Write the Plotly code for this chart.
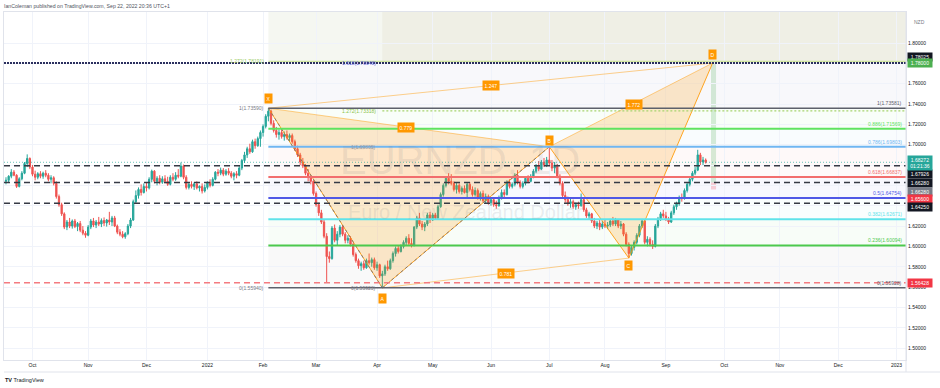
import pandas as pd
import plotly.graph_objects as go

# ---------------- data ----------------
dates = pd.bdate_range("2021-09-17", "2022-09-22")

opens = [1.6640,
 1.6650,1.6690,1.6730,1.6700,1.6590, 1.6665,1.6720,1.6815,1.6865,1.6780,
 1.6710,1.6680,1.6715,1.6690,1.6720, 1.6700,1.6660,1.6675,1.6620,1.6490,
 1.6410,1.6320,1.6190,1.6240,1.6200, 1.6250,1.6195,1.6225,1.6160,1.6130,
 1.6110,1.6190,1.6250,1.6210,1.6240, 1.6220,1.6255,1.6230,1.6260,1.6240,
 1.6280,1.6200,1.6140,1.6120,1.6095, 1.6125,1.6200,1.6260,1.6440,1.6500,
 1.6560,1.6530,1.6590,1.6575,1.6660, 1.6740,1.6640,1.6670,1.6630,1.6665,
 1.6640,1.6610,1.6680,1.6660,1.6700, 1.6690,1.6790,1.6680,1.6580,1.6610,
 1.6590,1.6615,1.6575,1.6590,1.6545, 1.6580,1.6630,1.6600,1.6660,1.6730,
 1.6720,1.6750,1.6710,1.6740,1.6720, 1.6690,1.6715,1.6700,1.6770,1.6845,
 1.6900,1.6960,1.6930,1.7030,1.6990, 1.7060,1.7120,1.7180,1.7280,1.7330,
 1.7210,1.7140,1.7100,1.7120,1.7080, 1.7100,1.7070,1.7090,1.7030,1.6960,
 1.6900,1.6830,1.6790,1.6720,1.6680, 1.6640,1.6520,1.6410,1.6330,1.6240,
 1.6100,1.5900,1.5880,1.6180,1.6060, 1.6120,1.6190,1.6120,1.6060,1.6080,
 1.6020,1.5920,1.5860,1.5810,1.5830, 1.5790,1.5860,1.5840,1.5870,1.5790,
 1.5820,1.5710,1.5730,1.5800,1.5780, 1.5860,1.5930,1.5980,1.5950,1.6000,
 1.6040,1.6080,1.6030,1.6010,1.6190, 1.6280,1.6220,1.6190,1.6220,1.6310,
 1.6260,1.6310,1.6280,1.6390,1.6510, 1.6600,1.6670,1.6640,1.6620,1.6560,
 1.6600,1.6540,1.6570,1.6530,1.6610, 1.6560,1.6510,1.6550,1.6480,1.6520,
 1.6450,1.6490,1.6430,1.6460,1.6410, 1.6400,1.6480,1.6530,1.6510,1.6630,
 1.6590,1.6610,1.6700,1.6630,1.6590, 1.6620,1.6670,1.6640,1.6690,1.6740,
 1.6790,1.6760,1.6830,1.6800,1.6850, 1.6820,1.6770,1.6800,1.6690,1.6620,
 1.6500,1.6460,1.6420,1.6440,1.6390, 1.6410,1.6400,1.6460,1.6360,1.6300,
 1.6320,1.6250,1.6200,1.6230,1.6190, 1.6220,1.6200,1.6210,1.6250,1.6220,
 1.6260,1.6200,1.6220,1.6120,1.6020, 1.5930,1.5990,1.6040,1.6110,1.6200,
 1.6250,1.6040,1.6070,1.6020,1.6000, 1.6200,1.6270,1.6320,1.6300,1.6270,
 1.6240,1.6330,1.6390,1.6420,1.6480, 1.6470,1.6550,1.6610,1.6660,1.6720,
 1.6750,1.6900,1.6830,1.6850]

highs = [1.6680,
 1.6700,1.6760,1.6750,1.6710,1.6680, 1.6740,1.6830,1.6905,1.6875,1.6800,
 1.6745,1.6730,1.6740,1.6735,1.6750, 1.6720,1.6700,1.6690,1.6640,1.6510,
 1.6430,1.6335,1.6260,1.6280,1.6265, 1.6270,1.6240,1.6250,1.6200,1.6150,
 1.6210,1.6270,1.6280,1.6260,1.6290, 1.6275,1.6285,1.6270,1.6340,1.6300,
 1.6300,1.6215,1.6170,1.6150,1.6140, 1.6220,1.6280,1.6460,1.6550,1.6580,
 1.6610,1.6620,1.6625,1.6680,1.6755, 1.6750,1.6690,1.6700,1.6690,1.6700,
 1.6685,1.6700,1.6720,1.6730,1.6760, 1.6825,1.6805,1.6700,1.6630,1.6640,
 1.6630,1.6640,1.6600,1.6620,1.6610, 1.6640,1.6660,1.6680,1.6740,1.6760,
 1.6775,1.6770,1.6760,1.6770,1.6740, 1.6730,1.6740,1.6790,1.6860,1.6930,
 1.6980,1.7010,1.7050,1.7060,1.7080, 1.7140,1.7200,1.7300,1.7359,1.7345,
 1.7240,1.7175,1.7150,1.7160,1.7130, 1.7140,1.7110,1.7110,1.7050,1.6990,
 1.6920,1.6870,1.6810,1.6760,1.6700, 1.6650,1.6540,1.6430,1.6360,1.6260,
 1.6130,1.5950,1.6200,1.6215,1.6150, 1.6210,1.6210,1.6140,1.6110,1.6100,
 1.6040,1.5940,1.5880,1.5850,1.5860, 1.5880,1.5930,1.5890,1.5890,1.5850,
 1.5830,1.5760,1.5820,1.5860,1.5880, 1.5950,1.6000,1.6010,1.6020,1.6060,
 1.6100,1.6120,1.6080,1.6200,1.6300, 1.6330,1.6250,1.6240,1.6330,1.6340,
 1.6330,1.6330,1.6410,1.6530,1.6620, 1.6690,1.6720,1.6710,1.6640,1.6630,
 1.6620,1.6590,1.6600,1.6630,1.6630, 1.6590,1.6580,1.6570,1.6540,1.6550,
 1.6520,1.6510,1.6480,1.6480,1.6450, 1.6500,1.6560,1.6560,1.6650,1.6660,
 1.6630,1.6720,1.6750,1.6650,1.6640, 1.6690,1.6700,1.6710,1.6760,1.6810,
 1.6840,1.6850,1.6870,1.6880,1.6980, 1.6850,1.6830,1.6810,1.6710,1.6640,
 1.6540,1.6490,1.6470,1.6460,1.6430, 1.6440,1.6520,1.6470,1.6380,1.6340,
 1.6330,1.6280,1.6250,1.6260,1.6250, 1.6260,1.6240,1.6270,1.6290,1.6280,
 1.6270,1.6250,1.6230,1.6140,1.6040, 1.6010,1.6060,1.6130,1.6220,1.6270,
 1.6260,1.6100,1.6090,1.6060,1.6220, 1.6290,1.6340,1.6360,1.6340,1.6290,
 1.6350,1.6410,1.6440,1.6500,1.6520, 1.6570,1.6630,1.6680,1.6740,1.6780,
 1.6950,1.6920,1.6880,1.6865]

lows = [1.6610,
 1.6630,1.6670,1.6690,1.6575,1.6580, 1.6650,1.6710,1.6780,1.6760,1.6690,
 1.6650,1.6660,1.6670,1.6665,1.6680, 1.6640,1.6620,1.6600,1.6470,1.6390,
 1.6300,1.6170,1.6160,1.6180,1.6175, 1.6180,1.6150,1.6140,1.6110,1.6085,
 1.6100,1.6170,1.6190,1.6180,1.6200, 1.6190,1.6200,1.6195,1.6210,1.6200,
 1.6190,1.6120,1.6100,1.6080,1.6075, 1.6110,1.6180,1.6250,1.6420,1.6470,
 1.6500,1.6520,1.6540,1.6560,1.6630, 1.6620,1.6600,1.6610,1.6615,1.6620,
 1.6595,1.6600,1.6640,1.6645,1.6670, 1.6680,1.6660,1.6560,1.6560,1.6570,
 1.6555,1.6560,1.6540,1.6520,1.6530, 1.6560,1.6580,1.6590,1.6650,1.6690,
 1.6700,1.6690,1.6695,1.6700,1.6670, 1.6650,1.6670,1.6690,1.6750,1.6820,
 1.6870,1.6910,1.6920,1.6960,1.6980, 1.6980,1.7080,1.7160,1.7230,1.7190,
 1.7120,1.7070,1.7050,1.7060,1.7040, 1.7050,1.7030,1.7010,1.6940,1.6880,
 1.6800,1.6770,1.6700,1.6640,1.6610, 1.6500,1.6390,1.6300,1.6220,1.6080,
 1.5643,1.5840,1.5870,1.6040,1.6010, 1.6090,1.6100,1.6030,1.6030,1.6000,
 1.5900,1.5840,1.5780,1.5760,1.5770, 1.5780,1.5820,1.5800,1.5770,1.5760,
 1.5690,1.5592,1.5710,1.5760,1.5770, 1.5840,1.5900,1.5930,1.5940,1.5980,
 1.6010,1.6010,1.5990,1.6000,1.6170, 1.6200,1.6160,1.6150,1.6200,1.6230,
 1.6250,1.6260,1.6270,1.6380,1.6490, 1.6580,1.6610,1.6600,1.6540,1.6520,
 1.6520,1.6510,1.6520,1.6480,1.6540, 1.6490,1.6490,1.6460,1.6450,1.6430,
 1.6420,1.6410,1.6400,1.6390,1.6370, 1.6390,1.6460,1.6480,1.6500,1.6570,
 1.6570,1.6590,1.6610,1.6570,1.6570, 1.6600,1.6620,1.6630,1.6670,1.6720,
 1.6740,1.6750,1.6780,1.6780,1.6790, 1.6740,1.6720,1.6670,1.6600,1.6480,
 1.6430,1.6400,1.6380,1.6370,1.6360, 1.6370,1.6390,1.6340,1.6280,1.6260,
 1.6230,1.6180,1.6170,1.6160,1.6170, 1.6180,1.6170,1.6190,1.6200,1.6200,
 1.6180,1.6170,1.6100,1.6000,1.5885, 1.5910,1.5960,1.6020,1.6090,1.6180,
 1.6020,1.6000,1.6000,1.5975,1.5990, 1.6180,1.6250,1.6280,1.6250,1.6220,
 1.6230,1.6310,1.6360,1.6400,1.6440, 1.6460,1.6530,1.6590,1.6640,1.6700,
 1.6740,1.6800,1.6800,1.6815]

closes = [1.6650,
 1.6690,1.6730,1.6700,1.6590,1.6665, 1.6720,1.6815,1.6865,1.6780,1.6710,
 1.6680,1.6715,1.6690,1.6720,1.6700, 1.6660,1.6675,1.6620,1.6490,1.6410,
 1.6320,1.6190,1.6240,1.6200,1.6250, 1.6195,1.6225,1.6160,1.6130,1.6110,
 1.6190,1.6250,1.6210,1.6240,1.6220, 1.6255,1.6230,1.6260,1.6240,1.6280,
 1.6200,1.6140,1.6120,1.6095,1.6125, 1.6200,1.6260,1.6440,1.6500,1.6560,
 1.6530,1.6590,1.6575,1.6660,1.6740, 1.6640,1.6670,1.6630,1.6665,1.6640,
 1.6610,1.6680,1.6660,1.6700,1.6690, 1.6790,1.6680,1.6580,1.6610,1.6590,
 1.6615,1.6575,1.6590,1.6545,1.6580, 1.6630,1.6600,1.6660,1.6730,1.6720,
 1.6750,1.6710,1.6740,1.6720,1.6690, 1.6715,1.6700,1.6770,1.6845,1.6900,
 1.6960,1.6930,1.7030,1.6990,1.7060, 1.7120,1.7180,1.7280,1.7330,1.7210,
 1.7140,1.7100,1.7120,1.7080,1.7100, 1.7070,1.7090,1.7030,1.6960,1.6900,
 1.6830,1.6790,1.6720,1.6680,1.6640, 1.6520,1.6410,1.6330,1.6240,1.6100,
 1.5900,1.5880,1.6180,1.6060,1.6120, 1.6190,1.6120,1.6060,1.6080,1.6020,
 1.5920,1.5860,1.5810,1.5830,1.5790, 1.5860,1.5840,1.5870,1.5790,1.5820,
 1.5710,1.5730,1.5800,1.5780,1.5860, 1.5930,1.5980,1.5950,1.6000,1.6040,
 1.6080,1.6030,1.6010,1.6190,1.6280, 1.6220,1.6190,1.6220,1.6310,1.6260,
 1.6310,1.6280,1.6390,1.6510,1.6600, 1.6670,1.6640,1.6620,1.6560,1.6600,
 1.6540,1.6570,1.6530,1.6610,1.6560, 1.6510,1.6550,1.6480,1.6520,1.6450,
 1.6490,1.6430,1.6460,1.6410,1.6400, 1.6480,1.6530,1.6510,1.6630,1.6590,
 1.6610,1.6700,1.6630,1.6590,1.6620, 1.6670,1.6640,1.6690,1.6740,1.6790,
 1.6760,1.6830,1.6800,1.6850,1.6820, 1.6770,1.6800,1.6690,1.6620,1.6500,
 1.6460,1.6420,1.6440,1.6390,1.6410, 1.6400,1.6460,1.6360,1.6300,1.6320,
 1.6250,1.6200,1.6230,1.6190,1.6220, 1.6200,1.6210,1.6250,1.6220,1.6260,
 1.6200,1.6220,1.6120,1.6020,1.5930, 1.5990,1.6040,1.6110,1.6200,1.6250,
 1.6040,1.6070,1.6020,1.6000,1.6200, 1.6270,1.6320,1.6300,1.6270,1.6240,
 1.6330,1.6390,1.6420,1.6480,1.6470, 1.6550,1.6610,1.6660,1.6720,1.6750,
 1.6900,1.6830,1.6850,1.6827]

assert len(dates) == len(opens) == len(highs) == len(lows) == len(closes)

month_tick_dates = ["2021-10-01", "2021-11-01", "2021-12-01", "2022-01-03", "2022-02-01",
                    "2022-03-01", "2022-04-01", "2022-05-02", "2022-06-01", "2022-07-01",
                    "2022-08-01", "2022-09-01", "2022-10-03", "2022-11-01", "2022-12-01",
                    "2023-01-02"]
month_tick_labels = ["Oct", "Nov", "Dec", "2022", "Feb", "Mar", "Apr", "May", "Jun", "Jul",
                     "Aug", "Sep", "Oct", "Nov", "Dec", "2023"]
price_ticks = [1.50, 1.52, 1.54, 1.56, 1.58, 1.60, 1.62, 1.64, 1.66, 1.68, 1.70, 1.72,
               1.74, 1.76, 1.78, 1.80]
price_tick_labels = ["1.50000", "1.52000", "1.54000", "1.56000", "1.58000", "1.60000",
                     "1.62000", "1.64000", "1.66000", "1.68000", "1.70000", "1.72000",
                     "1.74000", "1.76000", "1.78000", "1.80000"]

# harmonic XABCD pattern
pattern_names = ["X", "A", "B", "C", "D"]
pattern_dates = ["2022-02-03", "2022-04-05", "2022-07-01", "2022-08-12", "2022-09-26 15:00"]
pattern_prices = [1.7359, 1.5592, 1.6980, 1.5885, 1.7803]
ratio_pairs = [("X", "B"), ("A", "C"), ("B", "D"), ("X", "D")]
ratio_labels = ["0.779", "0.781", "1.772", "1.247"]

# fib retracement (X -> A) levels with right-hand labels
fib_levels = [1.73581, 1.71569, 1.69803, 1.66837, 1.64754, 1.62671, 1.60094, 1.55928]
fib_labels = ["1(1.73581)", "0.886(1.71569)", "0.786(1.69803)", "0.618(1.66837)",
              "0.5(1.64754)", "0.382(1.62671)", "0.236(1.60094)", "0(1.55928)"]
fib_colors = ["#5d606b", "#5fe35f", "#6fb6f2", "#f26d6d", "#5058e6", "#5fe3ea",
              "#4cc94c", "#5d606b"]
fib_left_labels = ["1.272(1.78191)", "1(1.73590)", "0(1.55940)"]
fib_left_prices = [1.78191, 1.73590, 1.55940]
ab_left_labels = ["1.618(1.78048)", "1.272(1.73318)", "1(1.69805)", "0(1.55923)"]
ab_left_prices = [1.78048, 1.73318, 1.69805, 1.55923]
ab_left_colors = ["#5d62d6", "#8bc34a", "#9598a1", "#787b86"]

# horizontal user lines
black_dashed_levels = [1.67926, 1.66280, 1.64250]
red_dashed_level = 1.56428
target_dotted_level = 1.78025
ext_green_level = 1.78191
ab_green_level = 1.73318
last_price = 1.68272

# long position tool
pos_entry, pos_target, pos_stop = 1.66280, 1.78000, 1.65600
pos_start, pos_end = "2022-09-26", "2022-09-27 22:00"

# right-axis price boxes: (price, text, colour, pixel shift)
axis_boxes = [(1.78025, "1.78025", "#131722", 6), (1.78000, "1.78000", "#4caf50", 0),
              (1.67926, "1.67926", "#131722", -8), (1.66280, "1.66280", "#131722", 0),
              (1.66280, "1.66280", "#787b86", -9), (1.65600, "1.65600", "#f23645", -10),
              (1.64250, "1.64250", "#131722", -4), (1.56428, "1.56428", "#f23645", 0)]

FONT = "Liberation Sans, Arial, sans-serif"
X_RIGHT = "2023-01-10"

fig = go.Figure()

# ---------------- background tints ----------------
shapes = []
xd = pattern_dates[0]
ad = pattern_dates[1]
shapes.append(dict(type="rect", xref="x", yref="y", x0=xd, x1=X_RIGHT, y0=ext_green_level, y1=1.9,
                   fillcolor="rgba(170,190,140,0.12)", line_width=0, layer="below"))
shapes.append(dict(type="rect", xref="x", yref="y", x0=ad, x1=X_RIGHT, y0=ext_green_level, y1=1.9,
                   fillcolor="rgba(190,180,130,0.10)", line_width=0, layer="below"))
shapes.append(dict(type="rect", xref="x", yref="y", x0=xd, x1=X_RIGHT, y0=fib_levels[0], y1=ext_green_level,
                   fillcolor="rgba(120,123,170,0.05)", line_width=0, layer="below"))
for i in range(len(fib_levels) - 1):
    shapes.append(dict(type="rect", xref="x", yref="y", x0=xd, x1=X_RIGHT,
                       y0=fib_levels[i + 1], y1=fib_levels[i],
                       fillcolor=fib_colors[i + 1], opacity=0.04, line_width=0, layer="below"))

# position tool
shapes.append(dict(type="rect", xref="x", yref="y", x0=pos_start, x1=pos_end, y0=pos_entry, y1=pos_target,
                   fillcolor="rgba(76,175,80,0.22)", line_width=0, layer="below"))
shapes.append(dict(type="rect", xref="x", yref="y", x0=pos_start, x1=pos_end, y0=pos_stop, y1=pos_entry,
                   fillcolor="rgba(242,54,69,0.22)", line_width=0, layer="below"))

# ---------------- candles ----------------
fig.add_trace(go.Candlestick(
    x=dates, open=opens, high=highs, low=lows, close=closes,
    increasing=dict(line=dict(color="#26a69a", width=1), fillcolor="#26a69a"),
    decreasing=dict(line=dict(color="#ef5350", width=1), fillcolor="#ef5350"),
    whiskerwidth=0, hoverinfo="skip", showlegend=False))

# ---------------- harmonic pattern ----------------
P = {n: (pd.Timestamp(d), p) for n, d, p in zip(pattern_names, pattern_dates, pattern_prices)}


def tri(a, b, c):
    fig.add_trace(go.Scatter(x=[P[a][0], P[b][0], P[c][0], P[a][0]],
                             y=[P[a][1], P[b][1], P[c][1], P[a][1]],
                             fill="toself", fillcolor="rgba(255,152,0,0.20)",
                             mode="lines", line=dict(width=0), hoverinfo="skip", showlegend=False))


def seg(a, b, color, width=1, dash="solid"):
    fig.add_trace(go.Scatter(x=[P[a][0], P[b][0]], y=[P[a][1], P[b][1]], mode="lines",
                             line=dict(color=color, width=width, dash=dash),
                             hoverinfo="skip", showlegend=False))


tri("X", "A", "B")
tri("B", "C", "D")
for a, b in ratio_pairs:
    seg(a, b, "rgba(255,152,0,0.45)", 1)
for a, b in [("X", "A"), ("A", "B"), ("B", "C"), ("C", "D")]:
    seg(a, b, "rgba(255,152,0,0.85)", 1)
# fib tool trend lines (dashed)
seg("X", "A", "rgba(110,110,120,0.85)", 1, "3px,3px")
seg("A", "B", "rgba(110,110,120,0.85)", 1, "3px,3px")

# ---------------- horizontal lines ----------------
def full_line(y, color, width, dash):
    shapes.append(dict(type="line", xref="paper", yref="y", x0=0, x1=1, y0=y, y1=y,
                       line=dict(color=color, width=width, dash=dash)))


def part_line(x0, y, color, width, dash="solid"):
    shapes.append(dict(type="line", xref="x", yref="y", x0=x0, x1=X_RIGHT, y0=y, y1=y,
                       line=dict(color=color, width=width, dash=dash)))


for lv, col in zip(fib_levels, fib_colors):
    part_line(xd, lv, col, 2 if col != "#5d606b" else 1.5)
part_line(xd, ext_green_level, "#cfe3a0", 1.5)
part_line(ad, ab_green_level, "#a8d46f", 1.2, "2px,2px")
full_line(target_dotted_level, "#2b2f5e", 2, "2px,1px")
for lv in black_dashed_levels:
    full_line(lv, "#363a45", 1.5, "6px,4px")
full_line(red_dashed_level, "#f47b80", 1.5, "6px,4px")
full_line(last_price, "rgba(38,166,154,0.7)", 1, "1px,2px")

# frame lines below the time axis
shapes.append(dict(type="line", xref="paper", yref="paper", x0=0, x1=1.0377, y0=-0.0345, y1=-0.0345,
                   line=dict(color="#e0e3eb", width=1)))
shapes.append(dict(type="line", xref="paper", yref="paper", x0=1, x1=1, y0=-0.0345, y1=1,
                   line=dict(color="#e0e3eb", width=1)))

# ---------------- annotations ----------------
ann = []

# watermark
ann.append(dict(text="EURNZD, 1D", xref="paper", yref="paper", x=0.5055, y=0.575,
                showarrow=False, font=dict(family="Liberation Sans, Arial", size=40,
                                           color="rgba(120,123,134,0.15)")))
ann.append(dict(text="Euro / New Zealand Dollar", xref="paper", yref="paper", x=0.512, y=0.424,
                showarrow=False, font=dict(family="Liberation Sans, Arial", size=20,
                                           color="rgba(120,123,134,0.15)")))

# right fib labels
for lv, txt, col in zip(fib_levels, fib_labels, fib_colors):
    ann.append(dict(text=txt, x=0.9975, xref="paper", y=lv, yref="y", xanchor="right", yanchor="bottom",
                    yshift=0, showarrow=False, font=dict(family=FONT, size=5, color=col)))
# left labels of fib X->A
for txt, lv, col in zip(fib_left_labels, fib_left_prices, ["#9ccc65", "#787b86", "#787b86"]):
    ann.append(dict(text=txt, x=xd, xref="x", y=lv, yref="y", xanchor="right", yanchor="middle",
                    xshift=-2, showarrow=False, font=dict(family=FONT, size=5, color=col)))
# left labels of fib A->B
for txt, lv, col in zip(ab_left_labels, ab_left_prices, ab_left_colors):
    ann.append(dict(text=txt, x=ad, xref="x", y=lv, yref="y", xanchor="right", yanchor="middle",
                    xshift=-4, showarrow=False, font=dict(family=FONT, size=5, color=col)))

# ratio labels
for (a, b), txt in zip(ratio_pairs, ratio_labels):
    mx = P[a][0] + (P[b][0] - P[a][0]) / 2
    my = (P[a][1] + P[b][1]) / 2
    ann.append(dict(text=txt, x=mx, y=my, xref="x", yref="y", showarrow=False,
                    bgcolor="#ff9800", borderpad=1.5,
                    font=dict(family=FONT, size=5, color="white")))
# point labels
point_shift = {"X": 10, "A": -11, "B": 6, "C": -7, "D": 9}
for n in pattern_names:
    ann.append(dict(text=n, x=P[n][0], y=P[n][1], xref="x", yref="y", showarrow=False,
                    yshift=point_shift[n], bgcolor="#ff9800", borderpad=1.5,
                    font=dict(family=FONT, size=5, color="white")))

# right axis boxes
for price, txt, col, sh in axis_boxes:
    ann.append(dict(text=txt, x=1, xref="paper", y=price, yref="y", xanchor="left", xshift=1,
                    yshift=sh, showarrow=False, bgcolor=col, width=23, height=7, borderpad=0.5,
                    font=dict(family=FONT, size=5, color="white")))
ann.append(dict(text="1.68272<br>01:21:36", x=1, xref="paper", y=last_price, yref="y", xanchor="left",
                xshift=1, yshift=-1, showarrow=False, bgcolor="#26a69a", width=23, height=13, borderpad=0.5,
                font=dict(family=FONT, size=5, color="white")))
ann.append(dict(text="NZD", x=1, xref="paper", y=0.986, yref="paper", xanchor="left", xshift=6,
                showarrow=False, font=dict(family=FONT, size=5, color="#787b86")))

# header & footer
ann.append(dict(text="IanColeman published on TradingView.com, Sep 22, 2022 20:36 UTC+1", x=-0.002,
                xref="paper", y=1.017, yref="paper", xanchor="left", yanchor="middle", showarrow=False,
                font=dict(family=FONT, size=5.2, color="#50535e")))
ann.append(dict(text="<b>TV</b> TradingView", x=-0.001, xref="paper", y=-0.0575, yref="paper",
                xanchor="left", yanchor="middle", showarrow=False,
                font=dict(family=FONT, size=5.5, color="#131722")))

fig.update_layout(
    width=940, height=388,
    margin=dict(l=4, r=34, t=12, b=28),
    paper_bgcolor="white", plot_bgcolor="white",
    showlegend=False, hovermode=False,
    shapes=shapes, annotations=ann,
    xaxis=dict(type="date", rangeslider=dict(visible=False),
               rangebreaks=[dict(bounds=["sat", "mon"])],
               range=["2021-09-16 06:00", "2023-01-05 14:00"],
               tickmode="array", tickvals=month_tick_dates, ticktext=month_tick_labels,
               ticks="", showgrid=True, gridcolor="#f0f3fa", gridwidth=1,
               showline=True, linecolor="#e0e3eb", mirror=True, zeroline=False,
               tickfont=dict(family=FONT, size=5, color="#131722")),
    yaxis=dict(side="right", range=[1.4883, 1.8305], tickmode="array",
               tickvals=price_ticks, ticktext=price_tick_labels, ticks="",
               showgrid=True, gridcolor="#f0f3fa", gridwidth=1,
               showline=True, linecolor="#e0e3eb", mirror=True, zeroline=False,
               tickfont=dict(family=FONT, size=5, color="#131722")),
)

fig.write_html("out.html", config={"displayModeBar": False},
               post_script="document.body.style.margin='0';")
